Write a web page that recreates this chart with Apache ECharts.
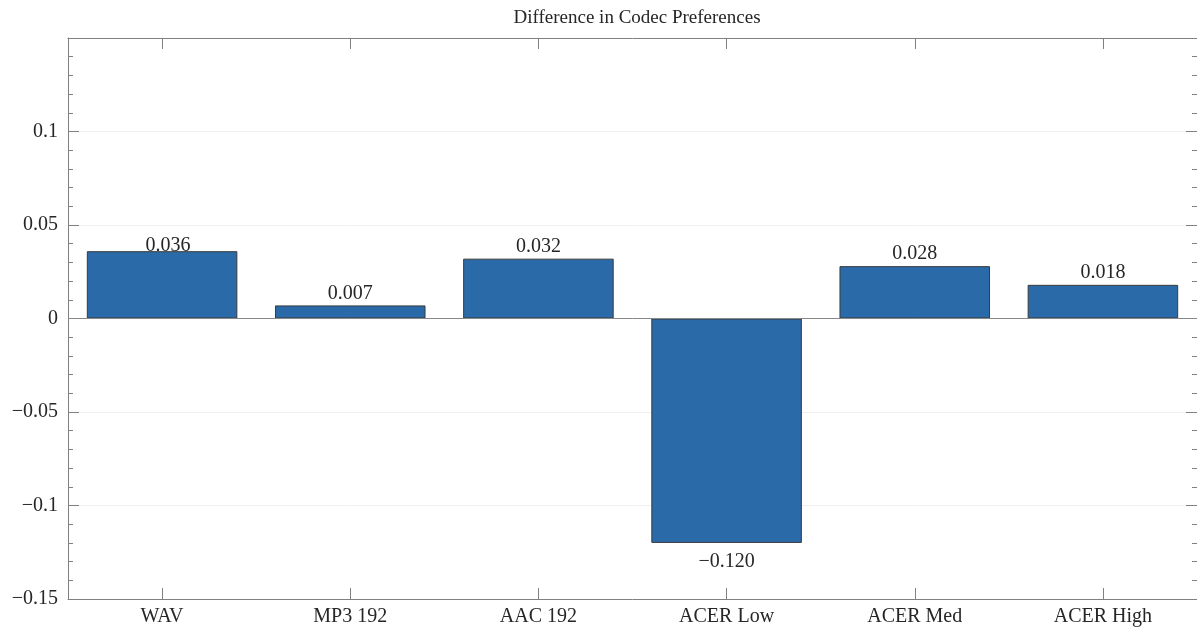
<!DOCTYPE html>
<html>
<head>
<meta charset="utf-8">
<script src="https://cdn.jsdelivr.net/npm/echarts@6/dist/echarts.min.js"></script>
<style>
html,body{margin:0;padding:0;background:#fff;}
#chart{width:1197px;height:629px;}
</style>
</head>
<body>
<div id="chart"></div>
<script>
const categories = ['WAV', 'MP3 192', 'AAC 192', 'ACER Low', 'ACER Med', 'ACER High'];
const values = [0.036, 0.007, 0.032, -0.120, 0.028, 0.018];
const yTicks = { min: -0.15, max: 0.15, interval: 0.05 };
const titleText = 'Difference in Codec Preferences';

const FONT = 'Liberation Serif';
const TXT = '#262626';
const AX = '#808080';

function fmtNum(v, d) {
  let s = d === undefined ? String(Number(v.toFixed(2))) : v.toFixed(d);
  return s.replace('-', '\u2212');
}

const seriesData = values.map((v, i) => {
  const item = { value: v, label: { position: v < 0 ? 'bottom' : 'top' } };
  if (v < 0) item.label.offset = [0, 7];
  if (i === 0) item.label.offset = [6, 7];
  return item;
});

const chart = echarts.init(document.getElementById('chart'), null, { renderer: 'canvas' });
chart.setOption({
  animation: false,
  backgroundColor: '#fff',
  title: {
    text: titleText,
    left: 632, textAlign: 'center', top: 4,
    textStyle: { fontFamily: FONT, fontSize: 19, fontWeight: 'normal', color: TXT }
  },
  grid: { left: 68, top: 38, width: 1130, height: 561 },
  xAxis: [
    {
      type: 'category', data: categories, position: 'bottom',
      axisLine: { onZero: false, lineStyle: { color: AX, width: 1 } },
      axisTick: { show: true, inside: true, length: 11, alignWithLabel: true, lineStyle: { color: AX } },
      axisLabel: { fontFamily: FONT, fontSize: 20, color: TXT, margin: 8 },
      splitLine: { show: false }
    },
    {
      type: 'category', data: categories, position: 'top',
      axisLine: { onZero: false, lineStyle: { color: AX, width: 1 } },
      axisTick: { show: true, inside: true, length: 11, alignWithLabel: true, lineStyle: { color: AX } },
      axisLabel: { show: false },
      splitLine: { show: false }
    }
  ],
  yAxis: [
    {
      type: 'value', min: yTicks.min, max: yTicks.max, interval: yTicks.interval, position: 'left',
      axisLine: { show: true, onZero: false, lineStyle: { color: AX, width: 1 } },
      axisTick: { show: true, inside: true, length: 11, lineStyle: { color: AX } },
      minorTick: { show: true, splitNumber: 5, length: 5, lineStyle: { color: AX } },
      axisLabel: {
        fontFamily: FONT, fontSize: 20, color: TXT, margin: 10,
        formatter: v => (Math.abs(v - yTicks.max) < 1e-9 ? '' : fmtNum(v))
      },
      splitLine: { show: true, lineStyle: { color: '#f0f0f0', width: 1 } }
    },
    {
      type: 'value', min: yTicks.min, max: yTicks.max, interval: yTicks.interval, position: 'right',
      axisLine: { show: true, onZero: false, lineStyle: { color: AX, width: 1 } },
      axisTick: { show: true, inside: true, length: 11, lineStyle: { color: AX } },
      minorTick: { show: true, splitNumber: 5, length: 5, lineStyle: { color: AX } },
      axisLabel: { show: false },
      splitLine: { show: false }
    }
  ],
  series: [{
    type: 'bar',
    xAxisIndex: 0, yAxisIndex: 0,
    data: seriesData,
    barCategoryGap: '20%',
    itemStyle: { color: '#2a6aa9', borderColor: '#3a3a3a', borderWidth: 1 },
    label: {
      show: true, distance: 2,
      fontFamily: FONT, fontSize: 20, color: TXT,
      formatter: p => fmtNum(p.value, 3)
    },
    markLine: {
      silent: true, symbol: 'none', animation: false,
      label: { show: false },
      lineStyle: { color: '#888', type: 'solid', width: 1 },
      data: [{ yAxis: 0 }]
    }
  }]
});
</script>
</body>
</html>
